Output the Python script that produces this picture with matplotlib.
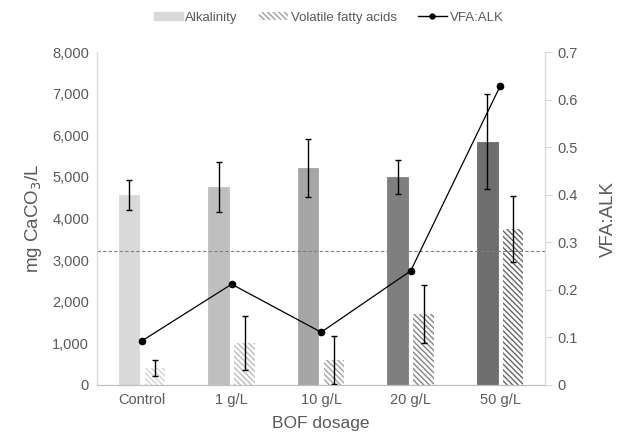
import numpy as np
import matplotlib
matplotlib.use('Agg')
import matplotlib.pyplot as plt
from matplotlib.patches import Patch
from matplotlib.lines import Line2D
from matplotlib.ticker import FuncFormatter

plt.rcParams['font.family'] = ['Liberation Sans', 'DejaVu Sans']
plt.rcParams['hatch.linewidth'] = 1.0

dosage = ['Control', '1 g/L', '10 g/L', '20 g/L', '50 g/L']
alkalinity = [4570, 4760, 5220, 5000, 5850]
alk_err = [360, 600, 690, 400, 1150]
vfa = [410, 1010, 600, 1700, 3750]
vfa_err = [200, 640, 570, 700, 800]
vfa_alk = [0.093, 0.212, 0.111, 0.24, 0.629]
threshold = 0.282

alk_colors = ['#d9d9d9', '#bfbfbf', '#a6a6a6', '#7f7f7f', '#6e6e6e']
hatch_colors = ['#d4d4d4', '#bdbdbd', '#a3a3a3', '#858585', '#666666']
grey_text = '#595959'
hatch = '\\' * 6

fig = plt.figure(figsize=(6.2, 4.42), dpi=100)
ax = fig.add_axes([0.157, 0.129, 0.722, 0.753])
ax2 = ax.twinx()

x = np.arange(len(dosage))
w = 0.23
off = 0.145

ax.bar(x - off, alkalinity, w, color=alk_colors, edgecolor=alk_colors, linewidth=0.6, zorder=2)
for i in range(len(x)):
    ax.bar(x[i] + off, vfa[i], w, color='white', edgecolor=hatch_colors[i],
           hatch=hatch, linewidth=0, zorder=2)
ax.errorbar(x - off, alkalinity, yerr=alk_err, fmt='none', ecolor='black',
            elinewidth=1, capsize=2.2, capthick=1, zorder=3)
ax.errorbar(x + off, vfa, yerr=vfa_err, fmt='none', ecolor='black',
            elinewidth=1, capsize=2.2, capthick=1, zorder=3)

ax.set_xlim(-0.5, 4.5)
ax.set_ylim(0, 8000)
ax.set_yticks(np.arange(0, 8001, 1000))
ax.yaxis.set_major_formatter(FuncFormatter(lambda v, p: f'{int(v):,}'))
ax.set_xticks(x)
ax.set_xticklabels(dosage)
ax.tick_params(axis='both', length=0, labelsize=10.5, labelcolor=grey_text, pad=6)
ax.set_ylabel('mg CaCO$_3$/L', fontsize=13.5, color=grey_text, labelpad=6)
ax.set_xlabel('BOF dosage', fontsize=12.5, color=grey_text, labelpad=6)

ax2.axhline(threshold, color='#7f7f7f', linestyle=(0, (3, 2)), linewidth=0.8, zorder=1)
ax2.plot(x, vfa_alk, color='black', linewidth=0.9, marker='o', markersize=4.5, zorder=4)
ax2.set_ylim(0, 0.7)
ax2.set_yticks(np.arange(0, 0.71, 0.1))
ax2.yaxis.set_major_formatter(FuncFormatter(lambda v, p: '0' if v == 0 else f'{v:.1f}'))
ax2.tick_params(axis='y', length=5, color='#d9d9d9', labelsize=10.5, labelcolor=grey_text, pad=4)
ax2.set_ylabel('VFA:ALK', fontsize=13.5, color=grey_text, labelpad=16)

for a in (ax, ax2):
    a.spines['top'].set_visible(False)
    a.spines['left'].set_color('#d9d9d9')
    a.spines['right'].set_color('#d9d9d9')
    a.spines['bottom'].set_color('#bfbfbf')

handles = [
    Patch(facecolor='#d9d9d9', edgecolor='#d9d9d9'),
    Patch(facecolor='white', edgecolor='#a0a0a0', hatch=hatch, linewidth=0),
    Line2D([0], [0], color='black', linewidth=1, marker='o', markersize=3.5),
]
fig.legend(handles, ['Alkalinity', 'Volatile fatty acids', 'VFA:ALK'],
           loc='upper center', bbox_to_anchor=(0.53, 1.0), ncol=3, frameon=False,
           fontsize=9.5, labelcolor=grey_text, handlelength=2.2, handleheight=0.6,
           handletextpad=0.2, columnspacing=1.6)

fig.savefig('out.png', dpi=100)
